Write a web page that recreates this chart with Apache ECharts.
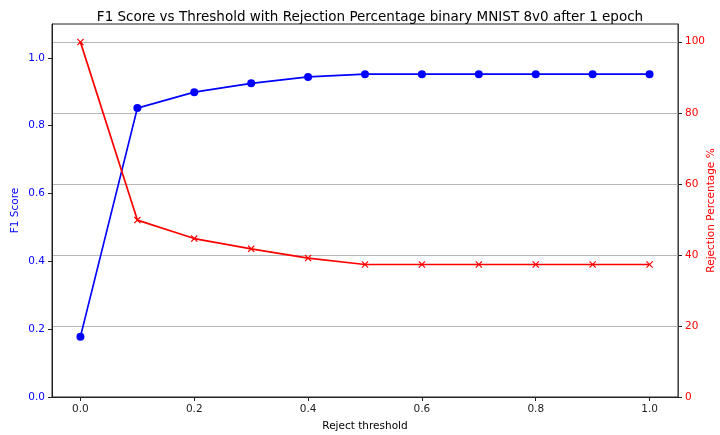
<!DOCTYPE html>
<html>
<head>
<meta charset="utf-8">
<script src="https://cdn.jsdelivr.net/npm/echarts@6/dist/echarts.min.js"></script>
<style>
html,body{margin:0;padding:0;background:#fff;}
#chart{width:720px;height:435px;}
</style>
</head>
<body>
<div id="chart"></div>
<script>
const thresholds = [0.0, 0.1, 0.2, 0.3, 0.4, 0.5, 0.6, 0.7, 0.8, 0.9, 1.0];
const f1Scores = [0.178, 0.852, 0.899, 0.925, 0.944, 0.952, 0.952, 0.952, 0.952, 0.952, 0.952];
const rejectionPct = [99.9, 49.8, 44.6, 41.7, 39.1, 37.3, 37.3, 37.3, 37.3, 37.3, 37.3];
const xTicks = [0.0, 0.2, 0.4, 0.6, 0.8, 1.0];

const font = 'DejaVu Sans';
const xPath = 'path://M0,1.2 L1.2,0 L5,3.8 L8.8,0 L10,1.2 L6.2,5 L10,8.8 L8.8,10 L5,6.2 L1.2,10 L0,8.8 L3.8,5 Z';

const chart = echarts.init(document.getElementById('chart'), null, {renderer: 'canvas'});
chart.setOption({
  animation: false,
  backgroundColor: '#fff',
  title: {
    text: 'F1 Score vs Threshold with Rejection Percentage binary MNIST 8v0 after 1 epoch',
    left: 365, top: 5, textAlign: 'center',
    textStyle: {fontFamily: font, fontSize: 13.5, fontWeight: 'normal', color: '#000'}
  },
  grid: {left: 52, right: 42, top: 24, bottom: 38, outerBoundsMode: 'none', containLabel: false, show: true, borderColor: '#222', borderWidth: 1, backgroundColor: 'transparent'},
  xAxis: {
    type: 'value', min: -0.05, max: 1.05,
    name: 'Reject threshold', nameLocation: 'middle', nameGap: 24, nameMoveOverlap: false,
    nameTextStyle: {fontFamily: font, fontSize: 10.5, color: '#000'},
    axisLine: {show: true, onZero: false, lineStyle: {color: '#222', width: 1}},
    axisTick: {show: true, length: 4, customValues: xTicks, lineStyle: {color: '#222'}},
    axisLabel: {customValues: xTicks, margin: 7, fontFamily: font, fontSize: 10.5, color: '#222', formatter: v => v.toFixed(1)},
    splitLine: {show: false}
  },
  yAxis: [
    {
      type: 'value', min: 0, max: 1.1, interval: 0.2, position: 'left',
      name: 'F1 Score', nameLocation: 'middle', nameGap: 31, nameMoveOverlap: false,
      nameTextStyle: {fontFamily: font, fontSize: 10.5, color: '#0000ff'},
      axisLine: {show: true, onZero: false, lineStyle: {color: '#222'}},
      axisTick: {show: true, length: 4, lineStyle: {color: '#222'}},
      axisLabel: {showMaxLabel: false, margin: 7, fontFamily: font, fontSize: 10.5, color: '#0000ff', formatter: v => v.toFixed(1)},
      splitLine: {show: false}
    },
    {
      type: 'value', min: 0, max: 105, interval: 20, position: 'right',
      name: 'Rejection Percentage %', nameLocation: 'middle', nameGap: 28, nameMoveOverlap: false,
      nameTextStyle: {fontFamily: font, fontSize: 10.5, color: '#ff0000'},
      axisLine: {show: true, onZero: false, lineStyle: {color: '#444'}},
      axisTick: {show: true, length: 4, lineStyle: {color: '#222'}},
      axisLabel: {showMaxLabel: false, margin: 7, fontFamily: font, fontSize: 10.5, color: '#ff0000'},
      splitLine: {show: true, showMinLine: false, showMaxLine: false, lineStyle: {color: '#b8b8b8', width: 1}}
    }
  ],
  series: [
    {
      type: 'line', yAxisIndex: 0, z: 2,
      data: thresholds.map((t, i) => [t, f1Scores[i]]),
      symbol: 'circle', symbolSize: 8, showAllSymbol: true,
      lineStyle: {color: '#0000ff', width: 1.7},
      itemStyle: {color: '#0000ff'}
    },
    {
      type: 'line', yAxisIndex: 1, z: 3,
      data: thresholds.map((t, i) => [t, rejectionPct[i]]),
      symbol: xPath, symbolSize: 7, showAllSymbol: true,
      lineStyle: {color: '#ff0000', width: 1.7},
      itemStyle: {color: '#ff0000'}
    }
  ]
});
</script>
</body>
</html>
